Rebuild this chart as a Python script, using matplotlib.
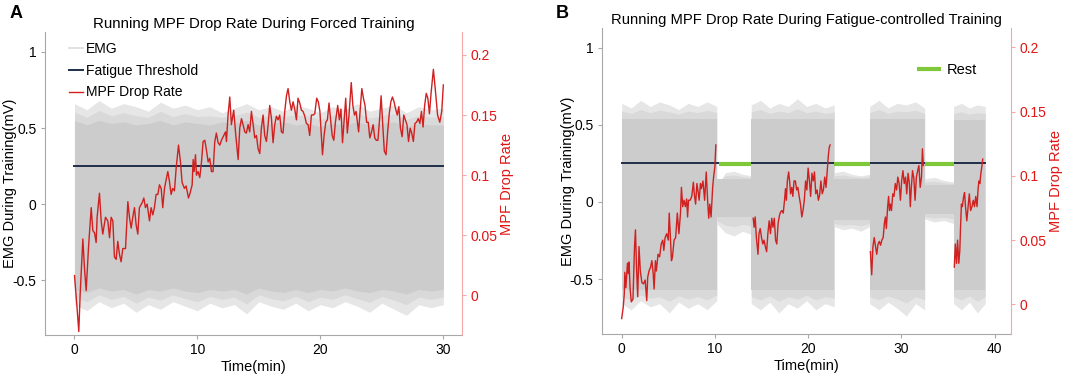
import numpy as np
import matplotlib
matplotlib.use('Agg')
import matplotlib.pyplot as plt
from matplotlib.ticker import FuncFormatter

plt.rcParams['font.family'] = ['Liberation Sans', 'DejaVu Sans']
plt.rcParams['axes.unicode_minus'] = False

# ---------------- data ----------------
threshold_emg = 0.25

# Panel A: running MPF drop rate (forced training)
mpfA_t = [0.0, 0.19, 0.35, 0.46, 0.68, 0.81, 0.95, 1.14, 1.36, 1.49, 1.63, 1.76, 1.84, 2.03, 2.17, 2.30,
          2.52, 2.71, 2.85, 2.98, 3.12, 3.25, 3.39, 3.52, 3.66, 3.79, 3.93, 4.15, 4.34, 4.47, 4.61, 4.74,
          4.88, 5.01, 5.15, 5.28, 5.50, 5.64, 5.77, 5.91, 6.10, 6.23, 6.37, 6.50, 6.64, 6.78, 6.91, 7.05,
          7.18, 7.32, 7.45, 7.59, 7.72, 7.86, 7.99, 8.13, 8.27, 8.46, 8.62, 8.75, 8.94, 9.08, 9.27, 9.40,
          9.57,
          9.65, 9.73, 9.84, 9.92, 10.05, 10.19, 10.33, 10.46, 10.60, 10.73, 10.87, 11.0, 11.14, 11.27, 11.41,
          11.54, 11.68, 11.82, 11.95, 12.14, 12.28, 12.36, 12.49, 12.63, 12.76, 12.95, 13.12, 13.31, 13.44,
          13.58, 13.71, 13.85, 13.98, 14.12, 14.25, 14.39, 14.53, 14.66, 14.80, 14.93, 15.07, 15.20, 15.34,
          15.47, 15.61, 15.75, 15.88, 16.02, 16.15, 16.29, 16.42, 16.56, 16.69, 16.83, 16.96, 17.10, 17.24,
          17.37, 17.51, 17.64, 17.78, 17.91, 18.05, 18.18, 18.32, 18.46, 18.59, 18.73, 18.86, 19.0, 19.13,
          19.27, 19.40, 19.54,
          19.70, 19.83, 19.96, 20.17, 20.30, 20.44, 20.57, 20.70, 20.83, 20.96, 21.09, 21.22, 21.41, 21.54,
          21.67, 21.80, 21.93, 22.06, 22.19, 22.32, 22.51, 22.64, 22.77, 22.90, 23.11, 23.24, 23.37, 23.50,
          23.63, 23.76, 23.89, 24.02, 24.16, 24.29, 24.42, 24.55, 24.68, 24.81, 24.94, 25.07, 25.20, 25.34,
          25.47, 25.60, 25.73, 25.86, 25.99, 26.12, 26.25, 26.38, 26.51, 26.65, 26.78, 26.91, 27.04, 27.17,
          27.30, 27.43, 27.56, 27.69, 27.82, 27.96, 28.09, 28.22, 28.35, 28.48, 28.61, 28.74, 28.87, 29.00,
          29.19, 29.34, 29.53, 29.71, 29.87, 30.0]
mpfA_v = [0.0165, -0.008, -0.030, 0.001, 0.047, 0.023, 0.004, 0.040, 0.073, 0.054, 0.052, 0.044, 0.065, 0.085,
          0.062, 0.051, 0.065, 0.062, 0.048, 0.065, 0.062, 0.032, 0.030, 0.045, 0.034, 0.028, 0.039, 0.039,
          0.078, 0.065, 0.056, 0.065, 0.073, 0.059, 0.051, 0.073, 0.077, 0.081, 0.073, 0.076, 0.062, 0.073,
          0.067, 0.073, 0.084, 0.084, 0.092, 0.089, 0.073, 0.089, 0.096, 0.103, 0.095, 0.084, 0.089, 0.087,
          0.106, 0.125, 0.111, 0.094, 0.089, 0.091, 0.081, 0.085, 0.092,
          0.113, 0.103, 0.117, 0.100, 0.103, 0.098, 0.111, 0.128, 0.129, 0.121, 0.111, 0.114, 0.103, 0.103,
          0.128, 0.135, 0.127, 0.125, 0.129, 0.133, 0.136, 0.128, 0.150, 0.165, 0.142, 0.154, 0.133, 0.113,
          0.139, 0.147, 0.142, 0.136, 0.135, 0.142, 0.136, 0.153, 0.142, 0.131, 0.133, 0.122, 0.118, 0.139,
          0.150, 0.133, 0.128, 0.142, 0.158, 0.147, 0.127, 0.142, 0.149, 0.146, 0.150, 0.136, 0.135, 0.153,
          0.166, 0.172, 0.161, 0.154, 0.161, 0.155, 0.146, 0.164, 0.160, 0.154, 0.153, 0.149, 0.143, 0.142,
          0.133, 0.150, 0.150, 0.151,
          0.164, 0.161, 0.153, 0.117, 0.133, 0.144, 0.146, 0.160, 0.146, 0.133, 0.129, 0.144, 0.158, 0.146,
          0.155, 0.127, 0.146, 0.164, 0.135, 0.149, 0.177, 0.158, 0.150, 0.153, 0.136, 0.155, 0.172, 0.164,
          0.158, 0.144, 0.144, 0.131, 0.136, 0.142, 0.131, 0.129, 0.129, 0.146, 0.166, 0.142, 0.120, 0.117,
          0.136, 0.151, 0.161, 0.165, 0.161, 0.155, 0.150, 0.157, 0.139, 0.132, 0.150, 0.146, 0.142, 0.128,
          0.139, 0.135, 0.128, 0.143, 0.144, 0.147, 0.143, 0.153, 0.140, 0.158, 0.168, 0.164, 0.151, 0.168,
          0.188, 0.172, 0.150, 0.144, 0.153, 0.175]

# Panel A: EMG envelope (mV), 1-min grid
emgA_t = list(range(0, 31))
emgA_peak_hi = [0.66, 0.62, 0.68, 0.63, 0.66, 0.64, 0.61, 0.67, 0.63, 0.65, 0.62, 0.64, 0.60, 0.63, 0.66, 0.62,
                0.64, 0.61, 0.65, 0.63, 0.60, 0.64, 0.62, 0.66, 0.61, 0.63, 0.65, 0.60, 0.64, 0.62, 0.63]
emgA_peak_lo = [-0.66, -0.70, -0.64, -0.68, -0.65, -0.71, -0.66, -0.69, -0.64, -0.67, -0.70, -0.65, -0.68,
                -0.66, -0.72, -0.64, -0.67, -0.69, -0.65, -0.70, -0.66, -0.68, -0.64, -0.67, -0.71, -0.65,
                -0.69, -0.73, -0.66, -0.68, -0.66]
emgA_core_hi = [0.55, 0.52, 0.55, 0.53, 0.54, 0.52, 0.53, 0.55, 0.52, 0.54, 0.53, 0.52, 0.54, 0.53, 0.55, 0.52,
                0.53, 0.54, 0.52, 0.53, 0.51, 0.53, 0.52, 0.54, 0.52, 0.53, 0.54, 0.51, 0.53, 0.52, 0.52]
emgA_core_lo = [-0.56, -0.58, -0.55, -0.57, -0.56, -0.59, -0.56, -0.57, -0.55, -0.57, -0.58, -0.56, -0.57,
                -0.56, -0.59, -0.55, -0.57, -0.58, -0.56, -0.58, -0.56, -0.57, -0.55, -0.57, -0.58, -0.56,
                -0.57, -0.59, -0.56, -0.57, -0.56]

# Panel B: MPF drop rate per training bout
mpfB_t = [
    [0.0, 0.17, 0.28, 0.34, 0.45, 0.62, 0.72, 0.79, 0.90, 1.03, 1.21, 1.38, 1.48, 1.59, 1.72, 1.86, 2.0,
     2.17, 2.34, 2.52, 2.69, 2.79, 2.93, 3.10, 3.24, 3.38, 3.48, 3.62, 3.72, 3.90, 4.07, 4.24, 4.41, 4.52,
     4.66, 4.83, 5.0, 5.10, 5.21, 5.34, 5.45, 5.62, 5.79, 5.97, 6.14, 6.31, 6.41, 6.55, 6.69, 6.83, 6.97,
     7.07, 7.17, 7.34, 7.52, 7.69, 7.79, 7.93, 8.07, 8.21, 8.31, 8.45, 8.55, 8.72, 8.90, 9.07, 9.24, 9.34,
     9.45, 9.59, 9.76, 9.86, 10.0, 10.10],
    [14.11, 14.21, 14.32, 14.45, 14.62, 14.73, 14.86, 15.0, 15.14, 15.27, 15.41, 15.55, 15.68, 15.82, 15.96,
     16.10, 16.23, 16.37, 16.51, 16.64, 16.78, 16.92, 17.05, 17.19, 17.33, 17.47, 17.57, 17.67, 17.77, 17.91,
     18.01, 18.12, 18.25, 18.36, 18.49, 18.63, 18.77, 18.90, 19.04, 19.18, 19.32, 19.45, 19.59, 19.73, 19.86,
     20.0, 20.14, 20.27, 20.41, 20.55, 20.68, 20.82, 20.96, 21.10, 21.23, 21.37, 21.51, 21.64, 21.78, 21.92,
     22.05, 22.16, 22.26, 22.36],
    [26.68, 26.82, 26.95, 27.09, 27.23, 27.36, 27.50, 27.64, 27.77, 27.91, 28.05, 28.18, 28.29, 28.39, 28.53,
     28.63, 28.73, 28.84, 28.94, 29.08, 29.21, 29.35, 29.49, 29.62, 29.76, 29.90, 30.03, 30.17, 30.31, 30.45,
     30.58, 30.72, 30.86, 30.96, 31.06, 31.20, 31.34, 31.47, 31.61, 31.75, 31.88, 32.02, 32.16, 32.26, 32.36],
    [35.68, 35.79, 35.92, 36.03, 36.16, 36.27, 36.34, 36.44, 36.54, 36.68, 36.78, 36.88, 37.02, 37.16, 37.29,
     37.43, 37.57, 37.71, 37.84, 37.98, 38.12, 38.22, 38.32, 38.42, 38.53, 38.63, 38.73],
]
mpfB_v = [
    [-0.011, -0.002, 0.008, 0.025, 0.013, 0.032, 0.024, 0.033, 0.013, 0.002, 0.004, 0.045, 0.058, 0.029,
     0.006, 0.045, 0.026, 0.017, 0.016, 0.019, 0.003, 0.021, 0.026, 0.029, 0.034, 0.024, 0.012, 0.034, 0.026,
     0.039, 0.037, 0.047, 0.050, 0.042, 0.052, 0.055, 0.050, 0.071, 0.055, 0.034, 0.037, 0.050, 0.052, 0.071,
     0.055, 0.071, 0.091, 0.076, 0.081, 0.076, 0.082, 0.068, 0.081, 0.081, 0.084, 0.095, 0.086, 0.078, 0.094,
     0.087, 0.081, 0.094, 0.090, 0.096, 0.081, 0.103, 0.078, 0.067, 0.078, 0.068, 0.091, 0.099, 0.107, 0.124],
    [0.067, 0.060, 0.068, 0.052, 0.039, 0.055, 0.059, 0.052, 0.047, 0.050, 0.045, 0.041, 0.055, 0.065, 0.055,
     0.067, 0.060, 0.067, 0.050, 0.047, 0.063, 0.069, 0.072, 0.073, 0.071, 0.081, 0.090, 0.081, 0.096, 0.103,
     0.096, 0.086, 0.091, 0.084, 0.096, 0.096, 0.089, 0.091, 0.084, 0.078, 0.068, 0.073, 0.081, 0.096, 0.089,
     0.106, 0.096, 0.084, 0.102, 0.096, 0.103, 0.086, 0.089, 0.081, 0.085, 0.096, 0.086, 0.089, 0.099, 0.091,
     0.104, 0.115, 0.122, 0.124],
    [0.041, 0.023, 0.045, 0.052, 0.045, 0.039, 0.047, 0.049, 0.046, 0.050, 0.052, 0.063, 0.068, 0.059, 0.076,
     0.084, 0.073, 0.078, 0.073, 0.086, 0.084, 0.094, 0.089, 0.099, 0.094, 0.081, 0.096, 0.104, 0.094, 0.099,
     0.086, 0.102, 0.094, 0.076, 0.090, 0.104, 0.098, 0.081, 0.099, 0.104, 0.108, 0.091, 0.099, 0.121, 0.108],
    [0.029, 0.047, 0.032, 0.050, 0.032, 0.042, 0.058, 0.078, 0.076, 0.084, 0.087, 0.076, 0.065, 0.076, 0.086,
     0.073, 0.076, 0.081, 0.076, 0.084, 0.076, 0.089, 0.096, 0.094, 0.102, 0.107, 0.113],
]

# Panel B: EMG segments (start, end) and envelope levels (mV)
emgB_seg = [(0.0, 10.2), (10.2, 13.9), (13.9, 22.8), (22.8, 26.6), (26.6, 32.5), (32.5, 35.6), (35.6, 39.0)]
emgB_peak_hi = [[0.64, 0.61, 0.66, 0.62, 0.65, 0.63, 0.60, 0.64, 0.62, 0.65, 0.62],
                [0.10, 0.19, 0.20, 0.18, 0.17],
                [0.63, 0.66, 0.61, 0.64, 0.62, 0.67, 0.62, 0.64, 0.61, 0.63],
                [0.19, 0.20, 0.18, 0.17, 0.18],
                [0.62, 0.66, 0.61, 0.64, 0.63, 0.65, 0.61],
                [0.15, 0.16, 0.14, 0.13],
                [0.62, 0.64, 0.61, 0.63, 0.62]]
emgB_peak_lo = [[-0.66, -0.70, -0.64, -0.68, -0.66, -0.72, -0.65, -0.69, -0.66, -0.70, -0.64],
                [-0.14, -0.20, -0.22, -0.19, -0.21],
                [-0.66, -0.70, -0.65, -0.72, -0.66, -0.69, -0.64, -0.70, -0.66, -0.68],
                [-0.16, -0.18, -0.17, -0.19, -0.16],
                [-0.66, -0.70, -0.65, -0.69, -0.74, -0.66, -0.70],
                [-0.11, -0.13, -0.12, -0.14],
                [-0.66, -0.70, -0.65, -0.72, -0.66]]
emgB_core_hi = [0.54, 0.15, 0.54, 0.15, 0.54, 0.11, 0.53]
emgB_core_lo = [-0.57, -0.10, -0.57, -0.12, -0.57, -0.08, -0.57]

rest_seg = [(10.4, 13.9), (22.8, 26.6), (32.5, 35.6)]
rest_level = 0.245

# ---------------- style ----------------
C_EMG = '#cccccc'
C_EMG_MID = '#d9d9d9'
C_EMG_LIGHT = '#e6e6e6'
C_THR = '#1f2f4a'
C_RED = '#d02020'
C_RED_SPINE = '#f2a8a8'
C_REST = '#7ec83a'
C_AX = '#a8a8a8'
C_RED_TXT = '#e01515'

fig = plt.figure(figsize=(10.84, 3.77), dpi=100)

fmt = FuncFormatter(lambda v, p: '%g' % v)


def style_axes(ax1, ax2, xlim, ylim1, ylim2, xticks, ylab_x):
    ax1.set_xlim(*xlim)
    ax1.set_ylim(*ylim1)
    ax2.set_ylim(*ylim2)
    ax1.set_xticks(xticks)
    ax1.set_yticks([-0.5, 0, 0.5, 1])
    ax2.set_yticks([0, 0.05, 0.1, 0.15, 0.2])
    ax1.yaxis.set_major_formatter(fmt)
    ax2.yaxis.set_major_formatter(fmt)
    for s in ['top', 'right']:
        ax1.spines[s].set_visible(False)
    for s in ['top', 'left', 'bottom']:
        ax2.spines[s].set_visible(False)
    ax1.spines['left'].set_color(C_AX)
    ax1.spines['bottom'].set_color(C_AX)
    ax2.spines['right'].set_color(C_RED_SPINE)
    ax1.tick_params(direction='out', length=3, width=0.8, color=C_AX, labelsize=10, labelcolor='black', pad=3)
    ax2.tick_params(direction='out', length=3, width=0.8, color=C_RED_SPINE, labelsize=10,
                    labelcolor=C_RED_TXT, pad=3)
    ax1.set_xlabel('Time(min)', fontsize=10.5, labelpad=2)
    ax1.set_ylabel('EMG During Training(mV)', fontsize=10.5)
    ax1.yaxis.set_label_coords(ylab_x, 0.5)
    ax2.set_ylabel('MPF Drop Rate', fontsize=10.5, color=C_RED_TXT, labelpad=2)


def emg_fill(ax, t, plo, phi, clo, chi):
    ax.fill_between(t, plo, phi, color=C_EMG_LIGHT, lw=0, zorder=1)
    mid_hi = [(a + b) / 2 for a, b in zip(phi, chi)] if np.ndim(chi) else [(a + chi) / 2 for a in phi]
    mid_lo = [(a + b) / 2 for a, b in zip(plo, clo)] if np.ndim(clo) else [(a + clo) / 2 for a in plo]
    ax.fill_between(t, mid_lo, mid_hi, color=C_EMG_MID, lw=0, zorder=1.5)


# ---------------- Panel A ----------------
axA = fig.add_axes([0.0415, 0.111, 0.3845, 0.804])
axA2 = axA.twinx()
emg_fill(axA, emgA_t, emgA_peak_lo, emgA_peak_hi, emgA_core_lo, emgA_core_hi)
axA.fill_between(emgA_t, emgA_core_lo, emgA_core_hi, color=C_EMG, lw=0, zorder=2)
hE, = axA.plot([], [], color='#dcdcdc', lw=1.2, label='EMG')
hT, = axA.plot([0, 30], [threshold_emg, threshold_emg], color=C_THR, lw=1.4, zorder=3,
               label='Fatigue Threshold')
hR, = axA2.plot(mpfA_t, mpfA_v, color=C_RED, lw=1.0, label='MPF Drop Rate')
style_axes(axA, axA2, (-2.4, 31.5), (-0.86, 1.13), (-0.033, 0.219), [0, 10, 20, 30], -0.067)
axA2.legend(handles=[hE, hT, hR], loc='upper left', bbox_to_anchor=(0.045, 0.985), frameon=False,
            fontsize=10, handlelength=1.0, handletextpad=0.2, labelspacing=0.55, borderaxespad=0)
axA.set_title('Running MPF Drop Rate During Forced Training', fontsize=10.8, pad=3)
fig.text(0.009, 0.965, 'A', fontsize=13, fontweight='bold', va='center')

# ---------------- Panel B ----------------
axB = fig.add_axes([0.555, 0.114, 0.378, 0.812])
axB2 = axB.twinx()
for (s, e), phi, plo, chi, clo in zip(emgB_seg, emgB_peak_hi, emgB_peak_lo, emgB_core_hi, emgB_core_lo):
    tt = np.linspace(s, e, len(phi))
    emg_fill(axB, tt, plo, phi, clo, chi)
    axB.fill_between([s, e], [clo, clo], [chi, chi], color=C_EMG, lw=0, zorder=2)
axB.plot([0, 39], [threshold_emg, threshold_emg], color=C_THR, lw=1.4, zorder=3)
hRest = None
for i, (s, e) in enumerate(rest_seg):
    h, = axB.plot([s, e], [rest_level, rest_level], color=C_REST, lw=3, zorder=4,
                  label='Rest' if i == 0 else None, solid_capstyle='butt')
    if i == 0:
        hRest = h
for tt, vv in zip(mpfB_t, mpfB_v):
    axB2.plot(tt, vv, color=C_RED, lw=1.0)
style_axes(axB, axB2, (-2.15, 41.8), (-0.857, 1.13), (-0.023, 0.215), [0, 10, 20, 30, 40], -0.066)
axB2.legend(handles=[hRest], loc='upper right', bbox_to_anchor=(0.93, 0.905), frameon=False,
            fontsize=10.5, handlelength=1.6, handletextpad=0.4, borderaxespad=0)
axB.set_title('Running MPF Drop Rate During Fatigue-controlled Training', fontsize=10.6, pad=3)
fig.text(0.513, 0.965, 'B', fontsize=13, fontweight='bold', va='center')

fig.savefig('out.png', dpi=100)
